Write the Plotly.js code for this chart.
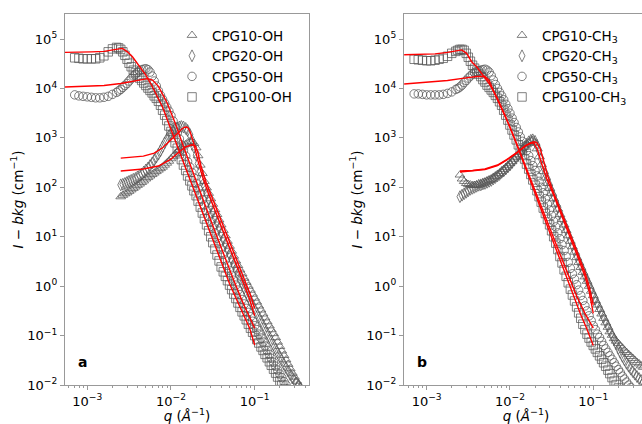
<!DOCTYPE html>
<html>
<head>
<meta charset="utf-8">
<script src="https://cdn.plot.ly/plotly-3.0.1.min.js"></script>
<style>
html,body{margin:0;padding:0;overflow:hidden;background:#fff;}
#chart{width:650px;height:424px;}
</style>
</head>
<body>
<div id="chart"></div>
<script>
// shared q grid (Å^-1) of the measured points
const qGrid = [7.08e-4, 7.94e-4, 8.91e-4, 1.00e-3, 1.12e-3, 1.26e-3, 1.41e-3, 1.58e-3, 1.78e-3, 2.00e-3, 2.24e-3,
  2.37e-3, 2.51e-3, 2.66e-3, 2.82e-3, 2.99e-3, 3.16e-3, 3.35e-3, 3.55e-3, 3.76e-3, 3.98e-3,
  4.22e-3, 4.47e-3, 4.73e-3, 5.01e-3, 5.31e-3, 5.62e-3, 5.96e-3, 6.31e-3, 6.68e-3, 7.08e-3,
  7.50e-3, 7.94e-3, 8.41e-3, 8.91e-3, 9.44e-3, 0.0100, 0.0106, 0.0112, 0.0119, 0.0126,
  0.0133, 0.0141, 0.0150, 0.0158, 0.0168, 0.0178, 0.0188, 0.0200, 0.0211, 0.0224,
  0.0237, 0.0251, 0.0266, 0.0282, 0.0299, 0.0316, 0.0335, 0.0355, 0.0376, 0.0398,
  0.0422, 0.0447, 0.0473, 0.0501, 0.0531, 0.0562, 0.0596, 0.0631, 0.0668, 0.0708,
  0.0750, 0.0794, 0.0841, 0.0891, 0.0944, 0.100, 0.106, 0.112, 0.119, 0.126,
  0.133, 0.141, 0.150, 0.158, 0.168, 0.178, 0.188, 0.200, 0.211, 0.224,
  0.237, 0.251, 0.266, 0.282, 0.299, 0.316, 0.335, 0.355, 0.376, 0.398];

// panel a : -OH  (I - bkg, cm^-1)
const I_CPG10_OH = [null,null,null,null,null,null,null,null,null,null,null,null,
  64.6, 69.2, 74.1, 77.6, 83.2, 89.1, 95.5, 102, 110, 117,
  126, 135, 148, 158, 170, 182, 195, 209, 224, 240,
  257, 282, 309, 339, 380, 417, 468, 525, 575, 631,
  692, 741, 794, 832, 832, 776, 631, 437, 282, 191,
  132, 97.7, 75.9, 58.9, 45.7, 35.5, 28.2, 21.9, 17.4, 13.5,
  10.5, 8.13, 6.46, 5.13, 4.07, 3.24, 2.63, 2.14, 1.78, 1.45,
  1.20, 1.00, 0.832, 0.692, 0.575, 0.479, 0.398, 0.331, 0.275, 0.229,
  0.191, 0.158, 0.132, 0.110, 0.0912, 0.0741, 0.0603, 0.0490, 0.0398, 0.0324,
  0.0263, 0.0214, 0.0174, 0.0145, 0.0120, 0.0100, 0.0083, null, null];
const I_CPG20_OH = [null,null,null,null,null,null,null,null,null,null,null,null,
  112, 115, 120, 126, 132, 138, 145, 151, 162, 174,
  186, 204, 224, 245, 275, 309, 355, 407, 468, 550,
  661, 794, 933, 1096, 1259, 1380, 1514, 1585, 1660, 1698,
  1660, 1549, 1413, 1175, 891, 646, 447, 302, 209, 145,
  105, 75.9, 56.2, 41.7, 31.6, 24.5, 19.1, 14.8, 11.5, 8.91,
  7.08, 5.50, 4.37, 3.47, 2.75, 2.19, 1.74, 1.38, 1.12, 0.912,
  0.741, 0.617, 0.501, 0.417, 0.339, 0.282, 0.234, 0.195, 0.162, 0.135,
  0.112, 0.0933, 0.0776, 0.0646, 0.0537, 0.0447, 0.0372, 0.0316, 0.0263, 0.0224,
  0.0191, 0.0162, 0.0141, 0.0123, 0.0110, 0.0098, 0.0087, null, null];
const I_CPG50_OH = [7410, 7080, 6920, 6760, 6610, 6460, 6460, 6610, 6920, 7590, 8320,
  8910, 9550, 1.05e4, 1.15e4, 1.26e4, 1.41e4, 1.58e4, 1.78e4, 1.95e4, 2.14e4,
  2.29e4, 2.40e4, 2.45e4, 2.51e4, 2.40e4, 2.14e4, 1.78e4, 1.41e4, 1.12e4, 8910,
  7240, 6030, 5010, 4170, 3470, 2820, 2190, 1660, 1260, 955,
  724, 550, 427, 331, 257, 200, 155, 120, 93.3, 72.4,
  56.2, 43.7, 33.9, 26.3, 20.4, 15.8, 12.0, 9.33, 7.24, 5.62,
  4.37, 3.39, 2.63, 2.09, 1.66, 1.32, 1.05, 0.832, 0.676, 0.537,
  0.437, 0.355, 0.295, 0.240, 0.195, 0.158, 0.132, 0.107, 0.0891, 0.0741,
  0.0617, 0.0501, 0.0417, 0.0347, 0.0288, 0.0240, 0.0200, 0.0166, 0.0141, 0.0117,
  0.0100, 0.0083, null, null, null, null, null, null, null, null];
const I_CPG100_OH = [4.17e4, 4.07e4, 3.98e4, 3.98e4, 3.98e4, 3.98e4, 4.17e4, 4.57e4, 5.50e4, 6.31e4, 6.76e4,
  6.61e4, 6.17e4, 5.50e4, 4.68e4, 3.89e4, 3.24e4, 2.75e4, 2.34e4, 2.09e4, 1.86e4,
  1.62e4, 1.45e4, 1.29e4, 1.15e4, 1.02e4, 9120, 8130, 7080, 6310, 5500,
  4570, 3630, 2880, 2240, 1740, 1350, 1020, 794, 617, 479,
  363, 282, 219, 170, 135, 107, 85.1, 67.6, 52.5, 39.8,
  30.2, 22.9, 17.4, 13.2, 10.0, 7.59, 5.62, 4.27, 3.24, 2.45,
  1.95, 1.58, 1.29, 1.05, 0.851, 0.692, 0.562, 0.457, 0.372, 0.302,
  0.251, 0.209, 0.170, 0.141, 0.117, 0.100, 0.0832, 0.0708, 0.0589, 0.0501,
  0.0417, 0.0355, 0.0295, 0.0251, 0.0209, 0.0174, 0.0145, 0.0120, 0.0100, 0.0083,
  null, null, null, null, null, null, null, null, null, null];

// panel b : -CH3
const I_CPG10_CH3 = [null,null,null,null,null,null,null,null,null,null,null,null,
  178, 148, 132, 120, 115, 112, 110, 110, 110, 112,
  115, 120, 126, 132, 138, 145, 155, 166, 178, 191,
  209, 229, 251, 275, 302, 331, 372, 407, 457, 513,
  575, 646, 724, 794, 871, 891, 794, 603, 417, 288,
  209, 155, 120, 95.5, 75.9, 58.9, 45.7, 36.3, 28.2, 22.4,
  17.4, 13.5, 10.5, 8.13, 6.31, 4.90, 3.80, 3.02, 2.40, 1.91,
  1.55, 1.26, 1.00, 0.794, 0.646, 0.513, 0.417, 0.339, 0.275, 0.224,
  0.182, 0.148, 0.120, 0.102, 0.0871, 0.0776, 0.0692, 0.0617, 0.0562, 0.0501,
  0.0457, 0.0417, 0.0380, 0.0347, 0.0316, 0.0288, 0.0269, 0.0245, 0.0229];
const I_CPG20_CH3 = [null,null,null,null,null,null,null,null,null,null,null,null,
  64.6, 69.2, 74.1, 79.4, 85.1, 91.2, 95.5, 100, 105, 110,
  112, 117, 120, 126, 132, 138, 148, 158, 170, 182,
  200, 214, 234, 257, 282, 316, 355, 398, 447, 501,
  575, 661, 741, 832, 891, 912, 851, 708, 550, 380,
  263, 191, 145, 110, 85.1, 66.1, 50.1, 38.9, 29.5, 22.9,
  17.8, 14.1, 11.0, 8.51, 6.76, 5.25, 4.17, 3.31, 2.63, 2.09,
  1.66, 1.32, 1.05, 0.851, 0.676, 0.550, 0.437, 0.355, 0.288, 0.234,
  0.191, 0.155, 0.126, 0.102, 0.0832, 0.0676, 0.0550, 0.0457, 0.0380, 0.0324,
  0.0275, 0.0240, 0.0209, 0.0186, 0.0166, 0.0148, 0.0135, 0.0123, 0.0115];
const I_CPG50_CH3 = [7760, 7760, 7590, 7410, 7410, 7410, 7410, 7590, 7940, 8510, 9550,
  1.00e4, 1.07e4, 1.17e4, 1.32e4, 1.45e4, 1.62e4, 1.78e4, 1.95e4, 2.09e4, 2.19e4,
  2.29e4, 2.34e4, 2.40e4, 2.45e4, 2.34e4, 2.14e4, 1.82e4, 1.48e4, 1.20e4, 1.00e4,
  8320, 7080, 5890, 4790, 3890, 3160, 2510, 2040, 1622, 1318,
  1047, 851, 676, 550, 437, 347, 275, 219, 170, 132,
  100, 77.6, 58.9, 45.7, 34.7, 26.9, 20.4, 15.8, 12.0, 9.12,
  6.92, 5.25, 3.98, 3.02, 2.29, 1.78, 1.38, 1.07, 0.832, 0.646,
  0.513, 0.398, 0.316, 0.251, 0.200, 0.158, 0.132, 0.107, 0.0912, 0.0759,
  0.0631, 0.0537, 0.0457, 0.0389, 0.0331, 0.0282, 0.0240, 0.0204, 0.0178, 0.0151,
  0.0132, 0.0115, 0.0100, 0.0089, null, null, null, null, null, null];
const I_CPG100_CH3 = [3.89e4, 3.80e4, 3.72e4, 3.63e4, 3.63e4, 3.72e4, 3.89e4, 4.07e4, 4.47e4, 5.13e4, 5.62e4,
  5.89e4, 6.17e4, 6.17e4, 5.89e4, 5.13e4, 4.27e4, 3.55e4, 2.95e4, 2.57e4, 2.24e4,
  1.95e4, 1.74e4, 1.51e4, 1.35e4, 1.17e4, 1.05e4, 9330, 8320, 7240, 6310,
  5370, 4570, 3630, 2880, 2290, 1820, 1445, 1148, 912, 724,
  575, 457, 372, 295, 234, 182, 141, 110, 85.1, 64.6,
  50.1, 38.0, 29.5, 22.4, 17.4, 13.2, 10.0, 7.41, 5.50, 3.98,
  2.95, 2.14, 1.58, 1.17, 0.871, 0.661, 0.501, 0.380, 0.288, 0.224,
  0.170, 0.132, 0.107, 0.0891, 0.0741, 0.0631, 0.0537, 0.0457, 0.0389, 0.0331,
  0.0282, 0.0240, 0.0200, 0.0170, 0.0141, 0.0120, 0.0102, 0.0087,
  null, null, null, null, null, null, null, null, null, null, null, null];

// model fits (red lines)
const fitA_q100 = [5.37e-4, 7.94e-4, 1.122e-3, 1.585e-3, 1.995e-3, 2.399e-3, 2.630e-3, 3.020e-3, 3.467e-3, 4.074e-3,
  5.012e-3, 6.026e-3, 7.943e-3, 0.0100, 0.01259, 0.01585, 0.01995, 0.02512, 0.03162, 0.03981, 0.05012, 0.0631, 0.07586, 0.08710, 0.100];
const fitA_I100 = [5.37e4, 5.37e4, 5.50e4, 5.62e4, 5.89e4, 6.31e4, 6.46e4, 5.50e4, 4.37e4, 2.95e4,
  1.86e4, 1.07e4, 4170, 1479, 525, 186, 69.2, 25.1, 8.51, 2.95, 1.12, 0.468, 0.234, 0.141, 0.0646];
const fitA_q50 = [5.37e-4, 1.0e-3, 1.585e-3, 2.512e-3, 3.548e-3, 4.467e-3, 5.248e-3, 6.026e-3, 7.079e-3, 8.913e-3,
  0.01122, 0.01413, 0.01778, 0.02239, 0.02818, 0.03548, 0.04467, 0.05623, 0.07079, 0.08318, 0.100];
const fitA_I50 = [1.07e4, 1.10e4, 1.15e4, 1.26e4, 1.41e4, 1.55e4, 1.58e4, 1.48e4, 1.10e4, 5250,
  1995, 661, 224, 79.4, 28.2, 10.0, 3.55, 1.32, 0.501, 0.282, 0.141];
const fitA_q20 = [2.512e-3, 3.548e-3, 4.677e-3, 6.310e-3, 7.943e-3, 0.0100, 0.01175, 0.01349, 0.01479, 0.01585,
  0.01698, 0.01862, 0.02089, 0.02399, 0.02818, 0.03548, 0.04467, 0.05623, 0.07079, 0.08511, 0.100];
const fitA_I20 = [389, 407, 427, 490, 631, 912, 1202, 1514, 1660, 1622,
  1318, 794, 355, 158, 72.4, 26.3, 9.55, 3.55, 1.35, 0.603, 0.251];
const fitA_q10 = [2.512e-3, 3.548e-3, 4.677e-3, 7.079e-3, 0.0100, 0.01259, 0.01514, 0.01778, 0.01950, 0.02089,
  0.02291, 0.02630, 0.03162, 0.03981, 0.05012, 0.0631, 0.07943, 0.08913, 0.100];
const fitA_I10 = [214, 224, 234, 269, 372, 525, 661, 724, 692, 525,
  263, 126, 57.5, 21.4, 7.59, 2.82, 1.05, 0.661, 0.355];

const fitB_q100 = [5.37e-4, 7.94e-4, 1.259e-3, 1.778e-3, 2.239e-3, 2.630e-3, 3.020e-3, 3.467e-3, 3.981e-3, 4.571e-3,
  5.623e-3, 7.079e-3, 8.913e-3, 0.01122, 0.01413, 0.01778, 0.02239, 0.02818, 0.03548, 0.04467, 0.05623, 0.07079, 0.08318, 0.100];
const fitB_I100 = [4.79e4, 4.90e4, 5.01e4, 5.37e4, 5.75e4, 6.03e4, 5.13e4, 3.47e4, 2.75e4, 2.04e4,
  1.26e4, 6310, 2630, 1000, 355, 132, 47.9, 16.6, 5.75, 2.00, 0.708, 0.263, 0.141, 0.0631];
const fitB_q50 = [5.37e-4, 1.0e-3, 1.778e-3, 2.818e-3, 3.981e-3, 5.012e-3, 5.623e-3, 6.607e-3, 7.943e-3, 0.0100,
  0.01259, 0.01585, 0.01995, 0.02512, 0.03162, 0.03981, 0.05012, 0.0631, 0.07943, 0.100];
const fitB_I50 = [1.23e4, 1.32e4, 1.45e4, 1.62e4, 1.74e4, 1.74e4, 1.45e4, 7590, 3800, 1660,
  631, 229, 89.1, 33.1, 12.0, 4.47, 1.66, 0.631, 0.282, 0.141];
const fitB_q20 = [2.512e-3, 3.548e-3, 5.012e-3, 7.079e-3, 9.120e-3, 0.01202, 0.01514, 0.01778, 0.01950, 0.02138,
  0.02399, 0.02754, 0.03311, 0.03981, 0.05012, 0.0631, 0.07943, 0.08913, 0.100];
const fitB_I20 = [214, 219, 234, 282, 363, 501, 692, 794, 776, 575,
  302, 151, 72.4, 33.1, 12.0, 4.47, 1.58, 0.794, 0.282];
const fitB_q10 = [2.512e-3, 3.548e-3, 5.012e-3, 7.079e-3, 9.120e-3, 0.01202, 0.01585, 0.01905, 0.02089, 0.02291,
  0.02512, 0.02818, 0.03311, 0.03981, 0.05012, 0.0631, 0.07943, 0.08913, 0.100];
const fitB_I10 = [204, 214, 229, 275, 355, 490, 708, 832, 813, 631,
  355, 178, 79.4, 38.0, 14.1, 5.25, 1.91, 1.00, 0.417];

// tick labels
const xTickVals = [1e-3, 1e-2, 1e-1];
const xTickText = ['10<sup>−3</sup>', '10<sup>−2</sup>', '10<sup>−1</sup>'];
const yTickVals = [1e-2, 1e-1, 1, 10, 100, 1e3, 1e4, 1e5];
const yTickText = ['10<sup>−2</sup>', '10<sup>−1</sup>', '10<sup>0</sup>', '10<sup>1</sup>', '10<sup>2</sup>',
  '10<sup>3</sup>', '10<sup>4</sup>', '10<sup>5</sup>'];

const namesA = ['CPG10-OH', 'CPG20-OH', 'CPG50-OH', 'CPG100-OH'];
const namesB = ['CPG10-CH<sub>3</sub>', 'CPG20-CH<sub>3</sub>', 'CPG50-CH<sub>3</sub>', 'CPG100-CH<sub>3</sub>'];
const symbols = ['triangle-up-open', 'diamond-tall-open', 'circle-open', 'square-open'];

const dataA = [I_CPG10_OH, I_CPG20_OH, I_CPG50_OH, I_CPG100_OH];
const dataB = [I_CPG10_CH3, I_CPG20_CH3, I_CPG50_CH3, I_CPG100_CH3];
const fitsA = [[fitA_q10, fitA_I10], [fitA_q20, fitA_I20], [fitA_q50, fitA_I50], [fitA_q100, fitA_I100]];
const fitsB = [[fitB_q10, fitB_I10], [fitB_q20, fitB_I20], [fitB_q50, fitB_I50], [fitB_q100, fitB_I100]];

const FONT = 'DejaVu Sans, sans-serif';
const GREY = 'rgba(85,85,85,0.75)';
const mk = (sym) => ({symbol: sym, size: 8.5, color: GREY, line: {color: GREY, width: 1}});

const traces = [];
dataA.forEach((I, k) => traces.push({x: qGrid, y: I, type: 'scatter', mode: 'markers', name: namesA[k],
  marker: mk(symbols[k]), xaxis: 'x', yaxis: 'y', legend: 'legend'}));
dataB.forEach((I, k) => traces.push({x: qGrid, y: I, type: 'scatter', mode: 'markers', name: namesB[k],
  marker: mk(symbols[k]), xaxis: 'x2', yaxis: 'y2', legend: 'legend2'}));
fitsA.forEach((f) => traces.push({x: f[0], y: f[1], type: 'scatter', mode: 'lines', showlegend: false,
  line: {color: '#ff0000', width: 1.4}, xaxis: 'x', yaxis: 'y'}));
fitsB.forEach((f) => traces.push({x: f[0], y: f[1], type: 'scatter', mode: 'lines', showlegend: false,
  line: {color: '#ff0000', width: 1.4}, xaxis: 'x2', yaxis: 'y2'}));

const W = 650, H = 424;
const yDom = [1 - 385 / H, 1 - 14 / H];
const xAxisBase = {
  type: 'log', showline: true, mirror: true, linecolor: '#999999', linewidth: 1.2,
  ticks: 'outside', ticklen: 4, tickwidth: 1, tickcolor: '#999999', showgrid: false, zeroline: false,
  tickmode: 'array', tickvals: xTickVals, ticktext: xTickText,
  tickfont: {family: FONT, size: 13, color: '#000'},
  minor: {ticks: 'outside', ticklen: 2, tickcolor: '#999999', dtick: 'D1', showgrid: false},
  title: {text: '<i>q</i> (<i>Å</i><sup>−1</sup>)', font: {family: FONT, size: 13.5, color: '#000'}, standoff: 4}
};
const yAxisBase = {
  type: 'log', showline: true, mirror: true, linecolor: '#999999', linewidth: 1.2,
  ticks: 'outside', ticklen: 4, tickwidth: 1, tickcolor: '#999999', showgrid: false, zeroline: false,
  tickmode: 'array', tickvals: yTickVals, ticktext: yTickText, range: [-2, 5.506], domain: yDom,
  tickfont: {family: FONT, size: 13, color: '#000'},
  title: {text: '<i>I</i> − <i>bkg</i> (cm<sup>−1</sup>)', font: {family: FONT, size: 13.5, color: '#000'}, standoff: 0}
};

const layout = {
  width: W, height: H, margin: {l: 0, r: 0, t: 0, b: 0},
  paper_bgcolor: '#fff', plot_bgcolor: '#fff',
  font: {family: FONT, size: 13.5, color: '#000'},
  xaxis: Object.assign({}, xAxisBase, {domain: [65 / W, 309 / W], range: [-3.266, -0.351], anchor: 'y'}),
  yaxis: Object.assign({}, yAxisBase, {anchor: 'x'}),
  xaxis2: Object.assign({}, xAxisBase, {domain: [404 / W, 648 / W], range: [-3.272, -0.343], anchor: 'y2'}),
  yaxis2: Object.assign({}, yAxisBase, {anchor: 'x2'}),
  legend: {x: 172 / W, y: 1 - 20 / H, xanchor: 'left', yanchor: 'top', bgcolor: 'rgba(0,0,0,0)',
    font: {family: FONT, size: 13.5, color: '#000'}, tracegroupgap: 0},
  legend2: {x: 502 / W, y: 1 - 20 / H, xanchor: 'left', yanchor: 'top', bgcolor: 'rgba(0,0,0,0)',
    font: {family: FONT, size: 13.5, color: '#000'}, tracegroupgap: 0},
  annotations: [
    {text: '<b>a</b>', xref: 'x domain', yref: 'y domain', x: (82 - 65) / 244, y: (385 - 362) / 371,
      showarrow: false, xanchor: 'center', yanchor: 'middle', font: {family: FONT, size: 14, color: '#000'}},
    {text: '<b>b</b>', xref: 'x2 domain', yref: 'y2 domain', x: (422 - 404) / 244, y: (385 - 362) / 371,
      showarrow: false, xanchor: 'center', yanchor: 'middle', font: {family: FONT, size: 14, color: '#000'}}
  ],
  showlegend: true
};

Plotly.newPlot('chart', traces, layout, {displayModeBar: false, staticPlot: true});
</script>
</body>
</html>
